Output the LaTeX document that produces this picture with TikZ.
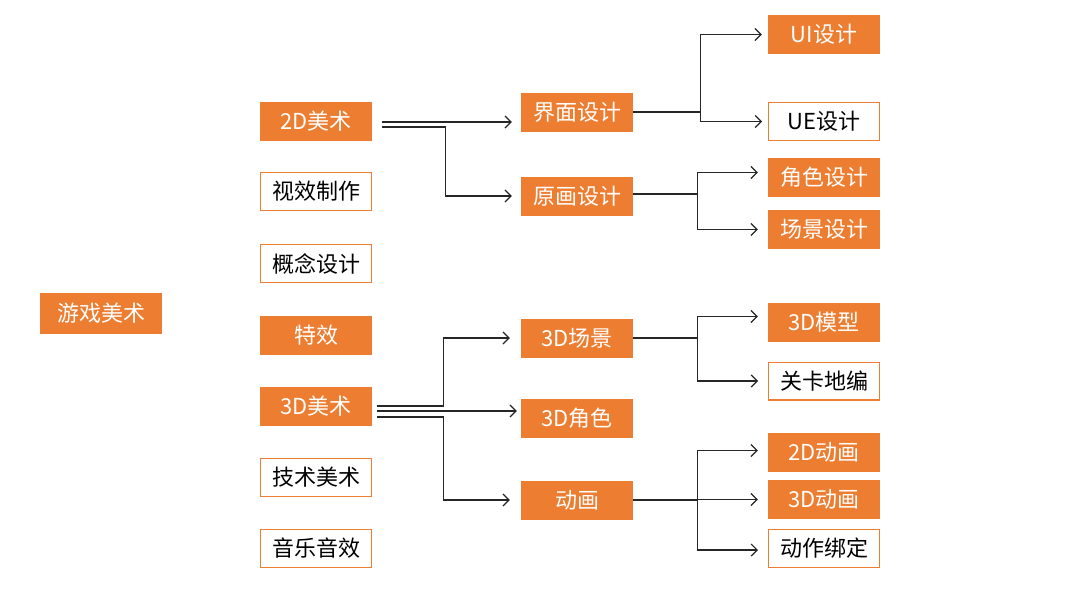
\documentclass[tikz,border=0pt]{standalone}
\usepackage{fontspec}
\newfontfamily\cjk{Noto Sans CJK SC}
\usetikzlibrary{arrows.meta,calc}
\definecolor{ora}{HTML}{ED7D31}
\begin{document}
\begin{tikzpicture}[x=1pt,y=-1pt,
  obox/.style={fill=ora,text=white,minimum width=112pt,minimum height=39pt,inner sep=0pt,font=\cjk\fontsize{22}{26}\selectfont},
  wbox/.style={obox,fill=white,draw=ora,line width=1.2pt,text=black,minimum width=110.8pt,minimum height=37.8pt},
  arr/.style={draw=black!85,line width=1.2pt,-{Straight Barb[length=6pt,width=12pt,line width=1.2pt]}},
  ln/.style={draw=black!85,line width=1.2pt}]
\useasboundingbox (0,0) rectangle (1080,592);
\fill[white] (0,0) rectangle (1080,592);
% root
\node[obox,minimum width=122pt,minimum height=41pt] (root) at (101,313.5) {游戏美术};
% left column
\node[obox] (a2d) at (316,121) {2D美术};
\node[wbox] (sx) at (316,191.5) {视效制作};
\node[wbox] (gn) at (316,263.5) {概念设计};
\node[obox] (tx) at (316,335) {特效};
\node[obox] (a3d) at (316,406) {3D美术};
\node[wbox] (js) at (316,477.5) {技术美术};
\node[wbox] (yy) at (316,548.5) {音乐音效};
% middle column
\node[obox] (jm) at (577,112) {界面设计};
\node[obox] (yh) at (577,196) {原画设计};
\node[obox] (cj3) at (577,338) {3D场景};
\node[obox] (js3) at (577,418.5) {3D角色};
\node[obox] (dh) at (577,500) {动画};
% right column
\node[obox] (ui) at (824,34.5) {UI设计};
\node[wbox] (ue) at (824,121.5) {UE设计};
\node[obox] (jsd) at (824,177.5) {角色设计};
\node[obox] (cjd) at (824,229.5) {场景设计};
\node[obox] (mx) at (824,322.5) {3D模型};
\node[wbox] (gk) at (824,381) {关卡地编};
\node[obox] (d2) at (824,452.5) {2D动画};
\node[obox] (d3) at (824,499.5) {3D动画};
\node[wbox] (bd) at (824,548.5) {动作绑定};
% 2D art connectors
\coordinate (s1) at ([shift={(10,1)}]a2d.east);
\coordinate (s2) at ([shift={(10,6)}]a2d.east);
\draw[arr,shorten >=9pt] (s1) -- (s1 -| jm.west);
\draw[arr,shorten >=9pt] (s2) -- ++(63,0) |- (yh.west);
% 界面设计
\draw[ln] (jm.east) -- ++(67,0) coordinate (f1);
\draw[arr,shorten >=6pt] (f1) |- (ui.west);
\draw[arr,shorten >=6pt] (f1) |- (ue.west);
% 原画设计
\coordinate (f2) at ([xshift=64pt,yshift=2pt]yh.east);
\draw[ln] ([yshift=2pt]yh.east) -- (f2);
\draw[arr,shorten >=10pt] (f2) |- ([yshift=5pt]jsd.west);
\draw[arr,shorten >=10pt] (f2) |- (cjd.west);
% 3D art connectors
\coordinate (t1) at ([shift={(5,0)}]a3d.east);
\coordinate (t2) at ([shift={(5,5)}]a3d.east);
\coordinate (t3) at ([shift={(5,11)}]a3d.east);
\draw[arr,shorten >=11pt] (t1) -- ++(66,0) |- (cj3.west);
\draw[arr,shorten >=4pt] (t2) -- (t2 -| js3.west);
\draw[arr,shorten >=11pt] (t3) -- ++(66,0) |- (dh.west);
% 3D场景
\draw[ln] (cj3.east) -- ++(64,0) coordinate (f3);
\draw[arr,shorten >=10pt] (f3) |- ([yshift=6pt]mx.west);
\draw[arr,shorten >=10pt] (f3) |- (gk.west);
% 动画
\draw[ln] (dh.east) -- ++(64,0) coordinate (f4);
\draw[arr,shorten >=10pt] (f4) |- ([yshift=2pt]d2.west);
\draw[arr,shorten >=10pt] (f4) |- (d3.west);
\draw[arr,shorten >=10pt] (f4) |- ([yshift=-1.5pt]bd.west);
\end{tikzpicture}
\end{document}
